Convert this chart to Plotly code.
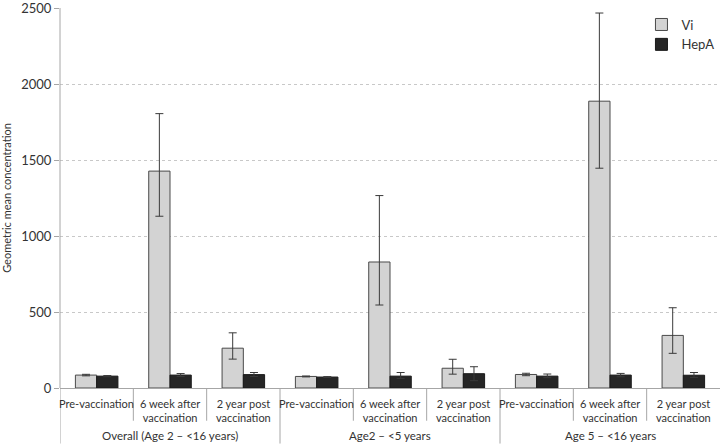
import plotly.graph_objects as go

groups = ["Overall (Age 2 \u2013 <16 years)", "Age2 \u2013 <5 years", "Age 5 \u2013 <16 years"]
timepoints = ["Pre-vaccination", "6 week after<br>vaccination", "2 year post<br>vaccination"]

vi_values = [85, 1427, 262, 76, 829, 130, 89, 1887, 346]
vi_upper = [90, 1805, 363, 79, 1266, 189, 97, 2467, 528]
vi_lower = [80, 1130, 190, 73, 546, 91, 81, 1446, 228]

hepa_values = [78, 85, 88, 72, 78, 94, 78, 85, 84]
hepa_upper = [82, 95, 102, 75, 102, 140, 92, 96, 102]
hepa_lower = [74, 76, 76, 69, 63, 48, 68, 74, 70]

y_ticks = [0, 500, 1000, 1500, 2000, 2500]

n = len(vi_values)
x = list(range(n))

FONT = "Lato"
TXT = "#333333"

fig = go.Figure()
fig.add_trace(go.Bar(
    x=x, y=vi_values, name="Vi",
    marker=dict(color="#d3d3d3", line=dict(color="#4a4a4a", width=1)),
    error_y=dict(type="data", symmetric=False,
                 array=[u - v for u, v in zip(vi_upper, vi_values)],
                 arrayminus=[v - l for v, l in zip(vi_values, vi_lower)],
                 color="#3a3a3a", thickness=1, width=4),
))
fig.add_trace(go.Bar(
    x=x, y=hepa_values, name="HepA",
    marker=dict(color="#262626", line=dict(color="#1a1a1a", width=1)),
    error_y=dict(type="data", symmetric=False,
                 array=[u - v for u, v in zip(hepa_upper, hepa_values)],
                 arrayminus=[v - l for v, l in zip(hepa_values, hepa_lower)],
                 color="#3a3a3a", thickness=1, width=4),
))

plot_top, plot_bottom = 5, 388
ph = plot_bottom - plot_top

def py(p):
    return (plot_bottom - p) / ph

annotations = []
shapes = []
for i in range(n):
    label = timepoints[i % len(timepoints)]
    annotations.append(dict(
        x=i, y=py(395), xref="x", yref="paper", text=label, showarrow=False,
        yanchor="top", font=dict(family=FONT, size=11, color=TXT), align="center"))
for g, name in enumerate(groups):
    center = g * len(timepoints) + (len(timepoints) - 1) / 2
    annotations.append(dict(
        x=center, y=py(436), xref="x", yref="paper", text=name, showarrow=False,
        yanchor="middle", font=dict(family=FONT, size=11.5, color=TXT)))
for i in range(n - 1):
    is_group = (i + 1) % len(timepoints) == 0
    shapes.append(dict(
        type="line", xref="x", yref="paper", x0=i + 0.5, x1=i + 0.5,
        y0=0, y1=py(444 if is_group else 421),
        line=dict(color="#a6a6a6", width=1)))
shapes.append(dict(type="line", xref="x", yref="paper", x0=-0.5, x1=-0.5,
                   y0=0, y1=py(444), line=dict(color="#a6a6a6", width=1)))

fig.update_layout(
    width=720, height=444,
    margin=dict(l=60, r=0, t=plot_top, b=444 - plot_bottom),
    paper_bgcolor="white", plot_bgcolor="white",
    barmode="group", bargap=0.42, bargroupgap=0,
    font=dict(family=FONT, color=TXT),
    xaxis=dict(range=[-0.5, n - 0.5], showticklabels=False, showgrid=False,
               zeroline=False, showline=True, linecolor="#a6a6a6", linewidth=1,
               ticks="", fixedrange=True),
    yaxis=dict(range=[0, 2500], tickvals=y_ticks, showgrid=True, gridcolor="#c8c8c8",
               griddash="dot", gridwidth=1, zeroline=False, showline=False,
               ticks="outside", ticklen=5, tickcolor="#a6a6a6",
               ticklabeloverflow="allow",
               tickfont=dict(family=FONT, size=13, color=TXT),
               title=dict(text="Geometric mean concentration", standoff=10,
                          font=dict(family=FONT, size=11, color=TXT))),
    legend=dict(x=0.881, y=0.996, xanchor="left", yanchor="top",
                font=dict(family=FONT, size=13, color=TXT),
                bgcolor="rgba(0,0,0,0)", tracegroupgap=0),
    showlegend=True,
    annotations=annotations, shapes=shapes,
)
fig.add_shape(type="line", xref="paper", yref="paper", x0=0, x1=0, y0=0, y1=1,
              line=dict(color="#a6a6a6", width=1))

fig.write_html("out.html", config={"displayModeBar": False},
               post_script="document.body.style.margin='0';")
